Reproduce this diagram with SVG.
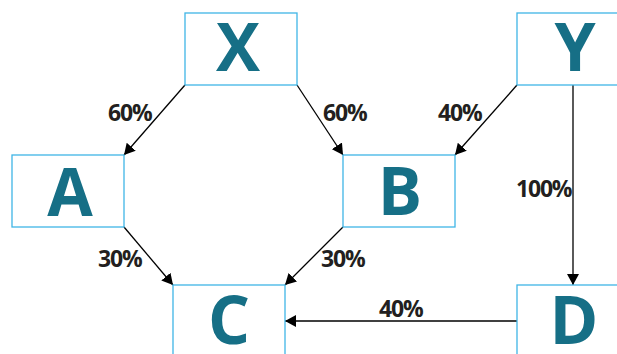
<svg xmlns="http://www.w3.org/2000/svg" width="617" height="354" viewBox="0 0 617 354">
<style>
.box{fill:#fff;stroke:#3fb5e6;stroke-width:1.3}
.lbl{font-family:"Open Sans","Liberation Sans",sans-serif;font-weight:700;font-size:66px;fill:#166f86;text-anchor:middle}
.pct{font-family:"Open Sans","Liberation Sans",sans-serif;font-weight:700;font-size:23px;fill:#231f20;letter-spacing:-1.2px}
.edge{stroke:#000;stroke-width:1.3;fill:none;marker-end:url(#arr)}
</style>
<defs>
<marker id="arr" viewBox="0 0 11 12" refX="11" refY="6" markerWidth="11" markerHeight="12" markerUnits="userSpaceOnUse" orient="auto">
<path d="M0,0 L11,6 L0,12 z" fill="#000"/>
</marker>
</defs>
<rect width="617" height="354" fill="#fff"/>
<g id="connectors">
<line class="edge" x1="185" y1="85" x2="124" y2="155"/>
<line class="edge" x1="297" y1="85" x2="343" y2="155"/>
<line class="edge" x1="517" y1="85" x2="455" y2="155"/>
<line class="edge" x1="573" y1="85" x2="573" y2="285"/>
<line class="edge" x1="124" y1="227" x2="173" y2="285"/>
<line class="edge" x1="343" y1="227" x2="285" y2="285"/>
<line class="edge" x1="517" y1="321" x2="285" y2="321"/>
<text class="pct" x="108" y="121">60%</text>
<text class="pct" x="323" y="121">60%</text>
<text class="pct" x="438" y="121">40%</text>
<text class="pct" x="516" y="197">100%</text>
<text class="pct" x="98" y="267">30%</text>
<text class="pct" x="321" y="267">30%</text>
<text class="pct" x="379" y="317">40%</text>
</g>
<g id="X"><rect class="box" x="185" y="13" width="112" height="72"/><text class="lbl" x="238" y="71">X</text></g>
<g id="Y"><rect class="box" x="517" y="13" width="112" height="72"/><text class="lbl" x="575" y="71">Y</text></g>
<g id="A"><rect class="box" x="12" y="155" width="112" height="72"/><text class="lbl" x="70" y="216">A</text></g>
<g id="B"><rect class="box" x="343" y="155" width="112" height="72"/><text class="lbl" x="400" y="215">B</text></g>
<g id="C"><rect class="box" x="173" y="285" width="112" height="72"/><text class="lbl" x="229" y="344">C</text></g>
<g id="D"><rect class="box" x="517" y="285" width="112" height="72"/><text class="lbl" x="574" y="344">D</text></g>
</svg>
